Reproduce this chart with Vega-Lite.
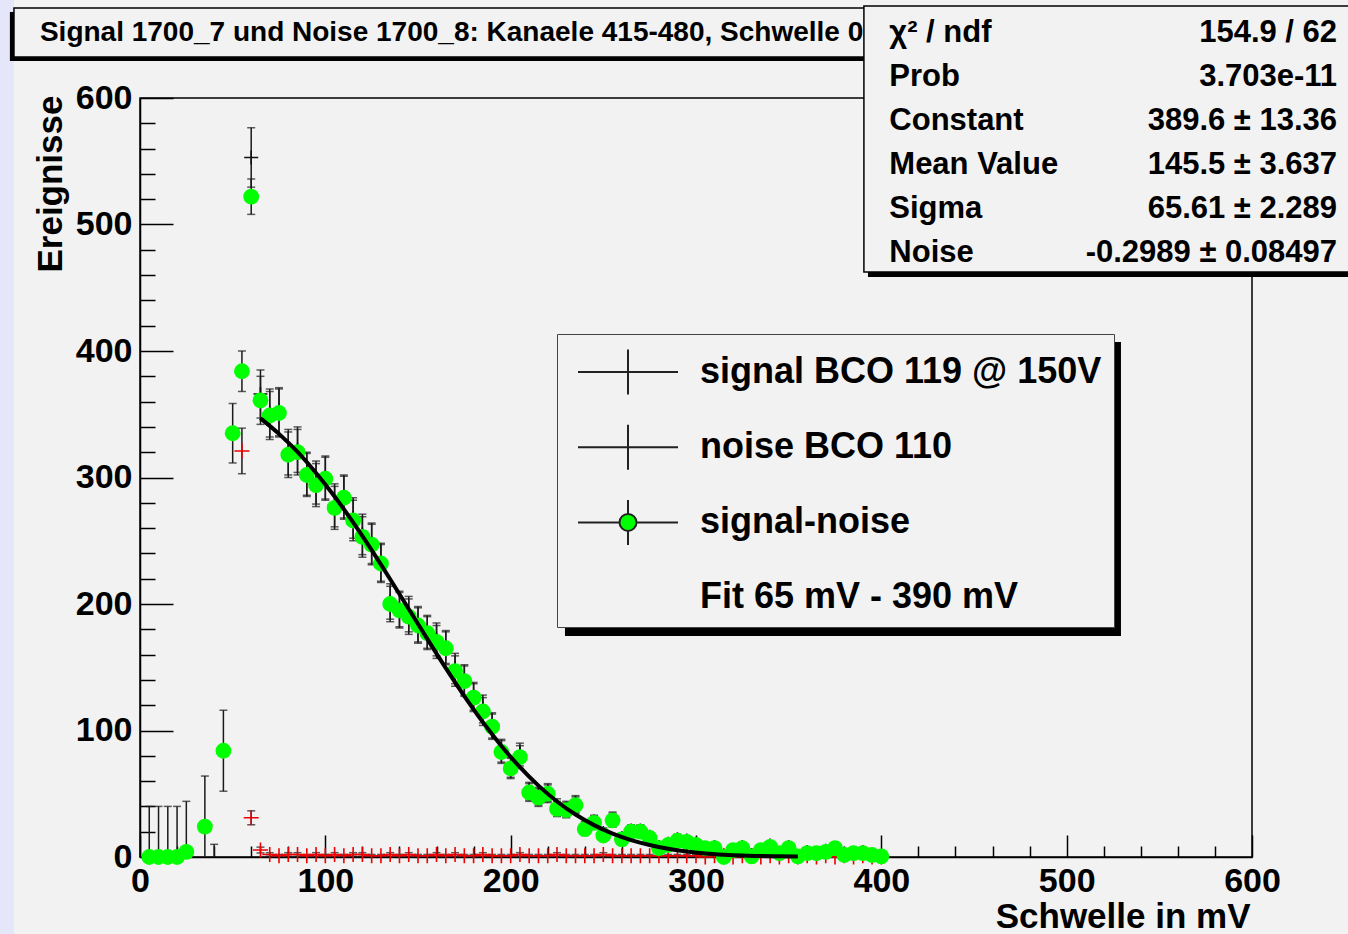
{
"$schema": "https://vega.github.io/schema/vega-lite/v6.json",
"width": 1112, "height": 759,
"autosize": {"type": "none"},
"padding": {"left": 140, "top": 98, "right": 96, "bottom": 77},
"background": "#f2f2f2",
"datasets": {
"pts": [
{"s":"d","x":5,"y":0,"e":40},{"s":"d","x":10,"y":0,"e":40},{"s":"d","x":15,"y":0,"e":40},{"s":"d","x":20,"y":0,"e":40},{"s":"d","x":25,"y":4,"e":40},{"s":"d","x":35,"y":24,"e":40},{"s":"d","x":40,"y":-30,"e":40},{"s":"d","x":45,"y":84,"e":32},{"s":"d","x":50,"y":335,"e":23.5},{"s":"d","x":55,"y":384,"e":16},{"s":"d","x":60,"y":522,"e":14},{"s":"d","x":65,"y":361,"e":19},{"s":"d","x":70,"y":349,"e":19},{"s":"d","x":75,"y":351,"e":19},{"s":"d","x":80,"y":318,"e":18},{"s":"d","x":85,"y":320,"e":18},{"s":"d","x":90,"y":302,"e":17},{"s":"d","x":95,"y":294,"e":17},{"s":"d","x":100,"y":299,"e":17},{"s":"d","x":105,"y":276,"e":17},{"s":"d","x":110,"y":284,"e":17},{"s":"d","x":115,"y":266,"e":16},{"s":"d","x":120,"y":253,"e":16},{"s":"d","x":125,"y":247,"e":16},{"s":"d","x":130,"y":232,"e":15},{"s":"d","x":135,"y":200,"e":14},{"s":"d","x":140,"y":195,"e":14},{"s":"d","x":145,"y":190,"e":14},{"s":"d","x":150,"y":183,"e":14},{"s":"d","x":155,"y":177,"e":13},{"s":"d","x":160,"y":170,"e":13},{"s":"d","x":165,"y":165,"e":13},{"s":"d","x":170,"y":147,"e":12},{"s":"d","x":175,"y":139,"e":12},{"s":"d","x":180,"y":126,"e":11},{"s":"d","x":185,"y":115,"e":11},{"s":"d","x":190,"y":103,"e":10},{"s":"d","x":195,"y":83,"e":9},{"s":"d","x":200,"y":70,"e":8},{"s":"d","x":205,"y":79,"e":9},{"s":"d","x":210,"y":51,"e":7},{"s":"d","x":215,"y":47,"e":7},{"s":"d","x":220,"y":50,"e":7},{"s":"d","x":225,"y":38,"e":6},{"s":"d","x":230,"y":37,"e":6},{"s":"d","x":235,"y":41,"e":6.5},{"s":"d","x":240,"y":22,"e":5},{"s":"d","x":245,"y":27,"e":5},{"s":"d","x":250,"y":17,"e":4},{"s":"d","x":255,"y":29,"e":5.5},{"s":"d","x":260,"y":14,"e":4},{"s":"d","x":265,"y":20,"e":4.5},{"s":"d","x":270,"y":20,"e":4.5},{"s":"d","x":275,"y":15,"e":4},{"s":"d","x":280,"y":7,"e":3},{"s":"d","x":285,"y":9.5,"e":3},{"s":"d","x":290,"y":13,"e":4},{"s":"d","x":295,"y":12,"e":3.5},{"s":"d","x":300,"y":9.5,"e":3},{"s":"d","x":305,"y":7,"e":2.6},{"s":"d","x":310,"y":7,"e":2.8},{"s":"d","x":315,"y":0,"e":1},{"s":"d","x":320,"y":5.5,"e":2.3},{"s":"d","x":325,"y":7,"e":2.8},{"s":"d","x":330,"y":0.5,"e":1.2},{"s":"d","x":335,"y":5.5,"e":2.3},{"s":"d","x":340,"y":8,"e":3},{"s":"d","x":345,"y":3,"e":1.7},{"s":"d","x":350,"y":7,"e":2.8},{"s":"d","x":355,"y":0.5,"e":0.7},{"s":"d","x":360,"y":3,"e":2},{"s":"d","x":365,"y":3,"e":1.7},{"s":"d","x":370,"y":4,"e":2.2},{"s":"d","x":375,"y":7,"e":2.6},{"s":"d","x":380,"y":1.6,"e":1.6},{"s":"d","x":385,"y":3,"e":1.7},{"s":"d","x":390,"y":3,"e":2},{"s":"d","x":395,"y":1.6,"e":1.3},{"s":"d","x":400,"y":0.5,"e":0.7},
{"s":"s","x":60,"y":553,"e":23.5},{"s":"s","x":65,"y":366,"e":19},{"s":"s","x":70,"y":351,"e":19},{"s":"s","x":75,"y":352,"e":19},{"s":"s","x":80,"y":320,"e":18},{"s":"s","x":85,"y":322,"e":18},{"s":"s","x":90,"y":303,"e":17},{"s":"s","x":95,"y":296,"e":17},{"s":"s","x":100,"y":300,"e":17},{"s":"s","x":105,"y":278,"e":17},{"s":"s","x":110,"y":285,"e":17},{"s":"s","x":115,"y":268,"e":16},{"s":"s","x":120,"y":255,"e":16},{"s":"s","x":125,"y":248,"e":16},{"s":"s","x":130,"y":233,"e":15},{"s":"s","x":135,"y":202,"e":14},{"s":"s","x":140,"y":196,"e":14},{"s":"s","x":145,"y":192,"e":14},{"s":"s","x":150,"y":184,"e":14},{"s":"s","x":155,"y":178,"e":13},{"s":"s","x":160,"y":172,"e":13},{"s":"s","x":165,"y":166,"e":13},{"s":"s","x":170,"y":149,"e":12},{"s":"s","x":175,"y":140,"e":12},{"s":"s","x":180,"y":127,"e":11},{"s":"s","x":185,"y":117,"e":11},{"s":"s","x":190,"y":104,"e":10},{"s":"s","x":195,"y":84,"e":9},{"s":"s","x":200,"y":71,"e":8},{"s":"s","x":205,"y":81,"e":9},{"s":"s","x":210,"y":52,"e":7},{"s":"s","x":215,"y":48,"e":7},{"s":"s","x":220,"y":51,"e":7},{"s":"s","x":225,"y":40,"e":6},{"s":"s","x":230,"y":38,"e":6},{"s":"s","x":235,"y":42,"e":6.5},{"s":"s","x":240,"y":23,"e":5},{"s":"s","x":245,"y":28,"e":5},{"s":"s","x":250,"y":19,"e":4},{"s":"s","x":255,"y":30,"e":5.5},{"s":"s","x":260,"y":15,"e":4},{"s":"s","x":265,"y":21,"e":4.5},{"s":"s","x":270,"y":21,"e":4.5},{"s":"s","x":275,"y":16,"e":4},{"s":"s","x":280,"y":8,"e":3},{"s":"s","x":285,"y":10.5,"e":3},{"s":"s","x":290,"y":14,"e":4},{"s":"s","x":295,"y":13,"e":3.5},{"s":"s","x":300,"y":10.5,"e":3},{"s":"s","x":305,"y":7,"e":2.6},{"s":"s","x":310,"y":8,"e":2.8},{"s":"s","x":315,"y":1,"e":1},{"s":"s","x":320,"y":5.5,"e":2.3},{"s":"s","x":325,"y":8,"e":2.8},{"s":"s","x":330,"y":1.5,"e":1.2},{"s":"s","x":335,"y":5.5,"e":2.3},{"s":"s","x":340,"y":9,"e":3},{"s":"s","x":345,"y":3,"e":1.7},{"s":"s","x":350,"y":8,"e":2.8},{"s":"s","x":355,"y":0.5,"e":0.7},{"s":"s","x":360,"y":4,"e":2},{"s":"s","x":365,"y":3,"e":1.7},{"s":"s","x":370,"y":5,"e":2.2},{"s":"s","x":375,"y":7,"e":2.6},{"s":"s","x":380,"y":2.6,"e":1.6},{"s":"s","x":385,"y":3,"e":1.7},{"s":"s","x":390,"y":4,"e":2},{"s":"s","x":395,"y":1.6,"e":1.3},{"s":"s","x":400,"y":0.5,"e":0.7},
{"s":"n","x":55,"y":321,"e":18},{"s":"n","x":60,"y":31,"e":5.5},{"s":"n","x":65,"y":5.5,"e":2.3},{"s":"n","x":70,"y":2,"e":1.4},{"s":"n","x":75,"y":1,"e":1},{"s":"n","x":80,"y":2,"e":1.4},{"s":"n","x":85,"y":2,"e":1.4},{"s":"n","x":90,"y":1,"e":1},{"s":"n","x":95,"y":2,"e":1.4},{"s":"n","x":100,"y":1,"e":1},{"s":"n","x":105,"y":2,"e":1.4},{"s":"n","x":110,"y":1,"e":1},{"s":"n","x":115,"y":2,"e":1.4},{"s":"n","x":120,"y":2,"e":1.4},{"s":"n","x":125,"y":1,"e":1},{"s":"n","x":130,"y":1,"e":1},{"s":"n","x":135,"y":2,"e":1.4},{"s":"n","x":140,"y":1,"e":1},{"s":"n","x":145,"y":2,"e":1.4},{"s":"n","x":150,"y":1,"e":1},{"s":"n","x":155,"y":1,"e":1},{"s":"n","x":160,"y":2,"e":1.4},{"s":"n","x":165,"y":1,"e":1},{"s":"n","x":170,"y":2,"e":1.4},{"s":"n","x":175,"y":1,"e":1},{"s":"n","x":180,"y":1,"e":1},{"s":"n","x":185,"y":2,"e":1.4},{"s":"n","x":190,"y":1,"e":1},{"s":"n","x":195,"y":1,"e":1},{"s":"n","x":200,"y":1,"e":1},{"s":"n","x":205,"y":2,"e":1.4},{"s":"n","x":210,"y":1,"e":1},{"s":"n","x":215,"y":1,"e":1},{"s":"n","x":220,"y":1,"e":1},{"s":"n","x":225,"y":2,"e":1.4},{"s":"n","x":230,"y":1,"e":1},{"s":"n","x":235,"y":1,"e":1},{"s":"n","x":240,"y":1,"e":1},{"s":"n","x":245,"y":1,"e":1},{"s":"n","x":250,"y":2,"e":1.4},{"s":"n","x":255,"y":1,"e":1},{"s":"n","x":260,"y":1,"e":1},{"s":"n","x":265,"y":1,"e":1},{"s":"n","x":270,"y":1,"e":1},{"s":"n","x":275,"y":1,"e":1},{"s":"n","x":280,"y":1,"e":1},{"s":"n","x":285,"y":1,"e":1},{"s":"n","x":290,"y":1,"e":1},{"s":"n","x":295,"y":1,"e":1},{"s":"n","x":300,"y":1,"e":1},{"s":"n","x":305,"y":0,"e":0},{"s":"n","x":310,"y":1,"e":1},{"s":"n","x":315,"y":1,"e":1},{"s":"n","x":320,"y":0,"e":0},{"s":"n","x":325,"y":1,"e":1},{"s":"n","x":330,"y":1,"e":1},{"s":"n","x":335,"y":0,"e":0},{"s":"n","x":340,"y":1,"e":1},{"s":"n","x":345,"y":0,"e":0},{"s":"n","x":350,"y":1,"e":1},{"s":"n","x":355,"y":0,"e":0},{"s":"n","x":360,"y":1,"e":1},{"s":"n","x":365,"y":0,"e":0},{"s":"n","x":370,"y":1,"e":1},{"s":"n","x":375,"y":0,"e":0},{"s":"n","x":380,"y":1,"e":1},{"s":"n","x":385,"y":0,"e":0},{"s":"n","x":390,"y":1,"e":1},{"s":"n","x":395,"y":0,"e":0},{"s":"n","x":400,"y":0,"e":0},
{"s":"f","x":65,"y":346.8},{"s":"f","x":75,"y":334.5},{"s":"f","x":85,"y":320.2},{"s":"f","x":95,"y":303.6},{"s":"f","x":105,"y":285.0},{"s":"f","x":115,"y":264.5},{"s":"f","x":125,"y":242.6},{"s":"f","x":135,"y":219.6},{"s":"f","x":145,"y":196.0},{"s":"f","x":155,"y":172.4},{"s":"f","x":165,"y":149.3},{"s":"f","x":175,"y":127.2},{"s":"f","x":185,"y":106.6},{"s":"f","x":195,"y":87.8},{"s":"f","x":205,"y":71.0},{"s":"f","x":215,"y":56.4},{"s":"f","x":225,"y":43.9},{"s":"f","x":235,"y":33.6},{"s":"f","x":245,"y":25.2},{"s":"f","x":255,"y":18.5},{"s":"f","x":265,"y":13.4},{"s":"f","x":275,"y":9.5},{"s":"f","x":285,"y":6.5},{"s":"f","x":295,"y":4.3},{"s":"f","x":305,"y":2.8},{"s":"f","x":315,"y":1.8},{"s":"f","x":325,"y":1.1},{"s":"f","x":335,"y":0.8},{"s":"f","x":345,"y":0.5},{"s":"f","x":355,"y":0.3}
]
},
"layer": [
{"layer": [
 {"data": {"name": "pts"}, "transform": [{"filter": "datum.s === 's'"}],
  "mark": {"type": "errorbar", "ticks": {"size": 8, "thickness": 1.5, "color": "#1a1a1a", "clip": true}, "rule": {"strokeWidth": 1.5, "color": "#1a1a1a", "clip": true}},
  "encoding": {
   "x": {"field": "x", "type": "quantitative", "title": "Schwelle in mV", "scale": {"domain": [0, 600], "nice": false, "zero": false},
     "axis": {"title": "Schwelle in mV", "values": [0,20,40,60,80,100,120,140,160,180,200,220,240,260,280,300,320,340,360,380,400,420,440,460,480,500,520,540,560,580,600],
       "tickCount": 60,
       "labelExpr": "datum.value % 100 === 0 ? datum.label : ''",
       "tickSize": {"condition": {"test": "datum.value % 100 === 0", "value": -22}, "value": -11},
       "labelPadding": 29, "labelOverlap": false, "labelFlush": false,
       "titleX": 1110, "titleY": 59, "titleAlign": "right", "titleBaseline": "middle", "titleAnchor": "end"}},
   "y": {"field": "y", "type": "quantitative", "title": "Ereignisse", "scale": {"domain": [0, 600], "nice": false},
     "axis": {"title": "Ereignisse", "values": [0,20,40,60,80,100,120,140,160,180,200,220,240,260,280,300,320,340,360,380,400,420,440,460,480,500,520,540,560,580,600],
       "tickCount": 60,
       "labelExpr": "datum.value % 100 === 0 ? datum.label : ''",
       "tickSize": {"condition": {"test": "datum.value % 100 === 0", "value": -33}, "value": -15},
       "labelPadding": 41, "labelOverlap": false, "labelFlush": false,
       "titleX": -90, "titleY": -3, "titleAngle": -90, "titleAlign": "right", "titleBaseline": "middle", "titleAnchor": "end"}},
   "yError": {"field": "e"}
  }},
 {"data": {"name": "pts"}, "transform": [{"filter": "datum.s === 'n'"}],
  "mark": {"type": "errorbar", "ticks": {"size": 8, "thickness": 1.5, "color": "#1a1a1a", "clip": true}, "rule": {"strokeWidth": 1.5, "color": "#1a1a1a", "clip": true}},
  "encoding": {"x": {"field": "x", "type": "quantitative", "title": "Schwelle in mV"}, "y": {"field": "y", "type": "quantitative", "title": "Ereignisse"}, "yError": {"field": "e"}}},
 {"data": {"name": "pts"}, "transform": [{"filter": "datum.s === 'd'"}],
  "mark": {"type": "errorbar", "ticks": {"size": 8, "thickness": 1.5, "color": "#1a1a1a", "clip": true}, "rule": {"strokeWidth": 1.5, "color": "#1a1a1a", "clip": true}},
  "encoding": {"x": {"field": "x", "type": "quantitative", "title": "Schwelle in mV"}, "y": {"field": "y", "type": "quantitative", "title": "Ereignisse"}, "yError": {"field": "e"}}},
 {"data": {"name": "pts"}, "transform": [{"filter": "datum.s === 'n'"}],
  "mark": {"type": "point", "shape": "M-1,0H1M0,-1V1", "size": 225, "filled": false, "stroke": "#ee0000", "strokeWidth": 1.6, "opacity": 1},
  "encoding": {"x": {"field": "x", "type": "quantitative", "title": "Schwelle in mV"}, "y": {"field": "y", "type": "quantitative", "title": "Ereignisse"}}},
 {"data": {"name": "pts"}, "transform": [{"filter": "datum.s === 's'"}],
  "mark": {"type": "point", "shape": "M-1,0H1M0,-1V1", "size": 196, "filled": false, "stroke": "#111111", "strokeWidth": 1.6, "opacity": 1},
  "encoding": {"x": {"field": "x", "type": "quantitative", "title": "Schwelle in mV"}, "y": {"field": "y", "type": "quantitative", "title": "Ereignisse"}}},
 {"data": {"name": "pts"}, "transform": [{"filter": "datum.s === 'd' && datum.y > -5"}],
  "mark": {"type": "point", "shape": "circle", "size": 250, "filled": true, "color": "#00ff00", "opacity": 1, "strokeWidth": 0},
  "encoding": {"x": {"field": "x", "type": "quantitative", "title": "Schwelle in mV"}, "y": {"field": "y", "type": "quantitative", "title": "Ereignisse"}}},
 {"data": {"name": "pts"}, "transform": [{"filter": "datum.s === 'f'"}],
  "mark": {"type": "line", "color": "#000000", "strokeWidth": 4, "interpolate": "monotone"},
  "encoding": {"x": {"field": "x", "type": "quantitative", "title": "Schwelle in mV"}, "y": {"field": "y", "type": "quantitative", "title": "Ereignisse"}}},
 {"data": {"name": "pts"},
  "mark": {"type": "point", "opacity": 0},
  "encoding": {
   "x": {"field": "x", "type": "quantitative", "title": "Schwelle in mV"}, "y": {"field": "y", "type": "quantitative", "title": "Ereignisse"},
   "shape": {"field": "s", "type": "nominal",
     "scale": {"domain": ["s", "n", "d", "f"], "range": ["M-2,0H2M0,-0.9V0.9", "M-2,0H2M0,-0.9V0.9", "M-2,0H-0.34M0.34,0H2M0,-0.9V-0.34M0,0.34V0.9M0.34,0A0.34,0.34,0,1,1,-0.34,0A0.34,0.34,0,1,1,0.34,0Z", "M0,0"]},
     "legend": {"title": null, "orient": "none", "legendX": 417, "legendY": 236,
       "labelExpr": "{'s': 'signal BCO 119 @ 150V', 'n': 'noise BCO 110', 'd': 'signal-noise', 'f': 'Fit 65 mV - 390 mV'}[datum.value]"}},
   "stroke": {"field": "s", "type": "nominal",
     "scale": {"domain": ["s", "n", "d", "f"], "range": ["#222222", "#222222", "#222222", "#f2f2f2"]},
     "legend": {"title": null, "orient": "none", "legendX": 417, "legendY": 236,
       "labelExpr": "{'s': 'signal BCO 119 @ 150V', 'n': 'noise BCO 110', 'd': 'signal-noise', 'f': 'Fit 65 mV - 390 mV'}[datum.value]"}},
   "fill": {"field": "s", "type": "nominal",
     "scale": {"domain": ["s", "n", "d", "f"], "range": ["transparent", "transparent", "#00ff00", "transparent"]},
     "legend": {"title": null, "orient": "none", "legendX": 417, "legendY": 236,
       "labelExpr": "{'s': 'signal BCO 119 @ 150V', 'n': 'noise BCO 110', 'd': 'signal-noise', 'f': 'Fit 65 mV - 390 mV'}[datum.value]"}}
  }},
 {"data": {"values": [{}]}, "mark": {"type": "rect", "color": "#e6e6fa"},
  "encoding": {"x": {"datum": -76, "type": "quantitative"}, "x2": {"datum": -68}, "y": {"datum": -61, "type": "quantitative"}, "y2": {"datum": 678}}},
 {"data": {"values": [{}]}, "mark": {"type": "rect", "color": "#000000"},
  "encoding": {"x": {"datum": -70.2, "type": "quantitative"}, "x2": {"datum": 391.7}, "y": {"datum": 668.0, "type": "quantitative"}, "y2": {"datum": 629.2}}},
 {"data": {"values": [{}]}, "mark": {"type": "rect", "fill": "#f2f2f2", "stroke": "#000000", "strokeWidth": 1.5},
  "encoding": {"x": {"datum": -68.0, "type": "quantitative"}, "x2": {"datum": 393.9}, "y": {"datum": 671.1, "type": "quantitative"}, "y2": {"datum": 632.4}}},
 {"data": {"values": [{}]}, "mark": {"type": "text", "align": "left", "baseline": "middle", "font": "Liberation Sans", "fontWeight": "bold", "fontSize": 28, "color": "#000000"},
  "encoding": {"x": {"datum": -54, "type": "quantitative"}, "y": {"datum": 651.4, "type": "quantitative"}, "text": {"value": "Signal 1700_7 und Noise 1700_8: Kanaele 415-480, Schwelle 0-"}}},
 {"data": {"values": [{}]}, "mark": {"type": "rect", "color": "#000000"},
  "encoding": {"x": {"datum": 229.3, "type": "quantitative"}, "x2": {"datum": 529.3}, "y": {"datum": 407.1, "type": "quantitative"}, "y2": {"datum": 174.7}}},
 {"data": {"values": [{}]}, "mark": {"type": "rect", "color": "#000000"},
  "encoding": {"x": {"datum": 392.8, "type": "quantitative"}, "x2": {"datum": 656.1}, "y": {"datum": 669.6, "type": "quantitative"}, "y2": {"datum": 458.5}}},
 {"data": {"values": [{}]}, "mark": {"type": "rect", "fill": "#f2f2f2", "stroke": "#000000", "strokeWidth": 1.5},
  "encoding": {"x": {"datum": 390.6, "type": "quantitative"}, "x2": {"datum": 654.0}, "y": {"datum": 672.7, "type": "quantitative"}, "y2": {"datum": 462.5}}}
]},
{"data": {"values": [
  {"p": "χ² / ndf", "v": "154.9 / 62"},
  {"p": "Prob", "v": "3.703e-11"},
  {"p": "Constant", "v": "389.6 ± 13.36"},
  {"p": "Mean Value", "v": "145.5 ± 3.637"},
  {"p": "Sigma", "v": "65.61 ± 2.289"},
  {"p": "Noise", "v": "-0.2989 ± 0.08497"}
 ]},
 "encoding": {"y": {"field": "p", "type": "nominal", "sort": null, "scale": {"type": "point", "range": [-65, 155], "padding": 0}, "axis": null}},
 "layer": [
  {"mark": {"type": "text", "align": "left", "baseline": "middle", "font": "Liberation Sans", "fontWeight": "bold", "fontSize": 31, "color": "#000000"},
   "encoding": {"x": {"datum": 404.3, "type": "quantitative"}, "text": {"field": "p"}}},
  {"mark": {"type": "text", "align": "right", "baseline": "middle", "font": "Liberation Sans", "fontWeight": "bold", "fontSize": 31, "color": "#000000"},
   "encoding": {"x": {"datum": 645.9, "type": "quantitative"}, "text": {"field": "v"}}}
 ]}
],
"resolve": {"scale": {"y": "independent"}},
"config": {
 "view": {"stroke": "#000000", "strokeWidth": 1.5},
 "axis": {"domainColor": "#000000", "domainWidth": 1.5, "tickColor": "#000000", "tickWidth": 1.5, "grid": false,
   "labelFont": "Liberation Sans", "labelFontWeight": "bold", "labelFontSize": 34, "labelColor": "#000000",
   "titleFont": "Liberation Sans", "titleFontWeight": "bold", "titleFontSize": 35, "titleColor": "#000000"},
 "legend": {"padding": 12, "rowPadding": 21.2, "symbolOffset": 33, "labelOffset": 46, "symbolSize": 2500, "symbolStrokeWidth": 2, "symbolOpacity": 1,
   "labelFont": "Liberation Sans", "labelFontWeight": "bold", "labelFontSize": 36, "labelColor": "#000000", "labelLimit": 700,
   "fillColor": "#f2f2f2", "strokeColor": "#444444"}
}
}
